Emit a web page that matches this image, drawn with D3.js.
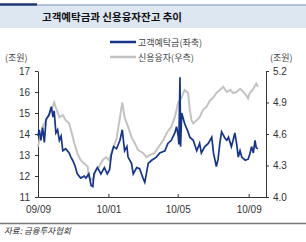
<!DOCTYPE html>
<html>
<head>
<meta charset="utf-8">
<script src="https://cdnjs.cloudflare.com/ajax/libs/d3/7.8.5/d3.min.js"></script>
<style>
  body { margin: 0; background: #fff; }
  svg { display: block; font-family: "Noto Sans CJK KR", "Noto Sans", sans-serif; }
  .tick text { fill: #333; font-size: 10px; font-family: Arial, "Liberation Sans", sans-serif; }
  .domain, .tick line { stroke: #333; }
</style>
</head>
<body>
<div id="chart"></div>
<script>
// ---- data ----
var title = "고객예탁금과 신용융자잔고 추이";
var seriesNames = ["고객예탁금(좌축)", "신용융자(우측)"];
var unitLabel = "(조원)";
var source = "자료: 금융투자협회";

var depositDates = ["2009-09-01","2009-09-03","2009-09-06","2009-09-09","2009-09-12","2009-09-15","2009-09-20","2009-09-24","2009-09-27","2009-09-29",
  "2009-10-02","2009-10-05","2009-10-08","2009-10-11","2009-10-14","2009-10-19","2009-10-25","2009-10-28","2009-10-31","2009-11-04",
  "2009-11-08","2009-11-14","2009-11-20","2009-11-23","2009-11-28","2009-12-02","2009-12-05","2009-12-07","2009-12-13","2009-12-19",
  "2009-12-25","2009-12-30","2010-01-03","2010-01-06","2010-01-10","2010-01-15","2010-01-21","2010-01-25","2010-01-29","2010-02-02",
  "2010-02-04","2010-02-10","2010-02-13","2010-02-19","2010-02-24","2010-03-02","2010-03-05","2010-03-11","2010-03-17","2010-03-25",
  "2010-03-31","2010-04-09","2010-04-14","2010-04-20","2010-04-26","2010-04-29","2010-05-02","2010-05-03","2010-05-05","2010-05-06",
  "2010-05-08","2010-05-13","2010-05-19","2010-05-22","2010-05-28","2010-06-03","2010-06-08","2010-06-11","2010-06-17","2010-06-23",
  "2010-06-29","2010-07-02","2010-07-07","2010-07-10","2010-07-13","2010-07-16","2010-07-22","2010-07-25","2010-07-28","2010-08-02",
  "2010-08-05","2010-08-08","2010-08-11","2010-08-14","2010-08-17","2010-08-20","2010-08-26","2010-08-31","2010-09-03","2010-09-06",
  "2010-09-09","2010-09-12","2010-09-14","2010-09-17"];
var depositValues = [13.9,14.2,13.7,14.3,13.6,14.7,14.9,15.3,14.8,15.1,
  14.05,14.2,13.7,13.9,13.2,13.3,13.1,12.9,12.75,12.5,
  12.1,11.9,12.0,11.9,12.1,11.55,11.5,12.1,12.4,12.1,
  12.4,12.1,12.3,13.0,13.4,13.3,13.7,14.2,13.2,13.4,
  12.9,12.6,12.1,12.4,12.35,11.9,11.7,12.6,12.75,12.9,
  13.1,13.2,13.55,13.7,14.05,14.35,13.9,13.5,16.7,13.4,
  15.0,14.5,14.1,13.85,13.7,13.2,13.55,13.1,13.4,13.55,
  13.85,13.1,12.45,12.8,13.55,14.1,13.8,13.7,13.85,13.4,
  13.7,14.05,13.55,12.9,13.2,12.9,12.75,12.8,13.05,13.4,
  13.1,13.7,13.35,13.3];

var creditDates = ["2009-09-01","2009-09-06","2009-09-09","2009-09-15","2009-09-20","2009-09-26","2009-09-29","2009-10-02","2009-10-08","2009-10-14",
  "2009-10-19","2009-10-25","2009-10-28","2009-11-03","2009-11-08","2009-11-14","2009-11-20","2009-11-26","2009-11-28","2009-12-05",
  "2009-12-10","2009-12-16","2009-12-22","2009-12-28","2010-01-02","2010-01-08","2010-01-12","2010-01-15","2010-01-21","2010-01-25",
  "2010-01-29","2010-02-04","2010-02-10","2010-02-16","2010-02-21","2010-03-02","2010-03-08","2010-03-14","2010-03-22","2010-03-28",
  "2010-04-06","2010-04-12","2010-04-20","2010-04-26","2010-05-02","2010-05-08","2010-05-13","2010-05-19","2010-05-22","2010-05-25",
  "2010-05-28","2010-06-03","2010-06-08","2010-06-14","2010-06-20","2010-06-26","2010-07-02","2010-07-07","2010-07-13","2010-07-19",
  "2010-07-25","2010-07-31","2010-08-05","2010-08-11","2010-08-17","2010-08-23","2010-08-29","2010-08-31","2010-09-03","2010-09-09",
  "2010-09-14","2010-09-17"];
var creditValues = [4.48,4.6,4.67,4.73,4.78,4.85,4.9,4.85,4.76,4.78,
  4.73,4.7,4.64,4.51,4.42,4.35,4.32,4.29,4.19,4.16,
  4.26,4.29,4.35,4.38,4.35,4.45,4.51,4.55,4.76,4.9,
  4.76,4.67,4.57,4.51,4.45,4.42,4.38,4.40,4.42,4.47,
  4.54,4.61,4.67,4.76,4.9,4.95,5.02,4.99,4.83,4.73,
  4.70,4.73,4.76,4.83,4.86,4.92,4.95,4.99,5.02,5.05,
  5.0,5.02,4.99,5.0,5.03,5.0,4.96,4.94,4.99,5.03,
  5.08,5.05];

var leftTicks = [11, 12, 13, 14, 15, 16, 17];
var rightTicks = [4.0, 4.3, 4.6, 4.9, 5.2];
var xTicks = ["2009-09-01", "2010-01-01", "2010-05-01", "2010-09-01"];

// ---- set up ----
var W = 306, H = 242;
var margin = { top: 71, right: 40, bottom: 45, left: 38 };
var parse = d3.timeParse("%Y-%m-%d");

var svg = d3.select("#chart").append("svg")
  .attr("width", W).attr("height", H);

// title bar
svg.append("rect").attr("x", 0).attr("y", 5).attr("width", W).attr("height", 23).attr("fill", "#dde7f1");
svg.append("line").attr("x1", 37).attr("x2", W).attr("y1", 5).attr("y2", 5)
  .attr("stroke", "#9fb2c8").attr("stroke-width", 1.5);
svg.append("line").attr("x1", 0).attr("x2", 37).attr("y1", 4.5).attr("y2", 4.5)
  .attr("stroke", "#1d3a70").attr("stroke-width", 2.5);
svg.append("text").attr("x", 42).attr("y", 21)
  .attr("font-size", "10.5px").attr("font-weight", "bold").attr("fill", "#111")
  .text(title);

var x = d3.scaleTime()
  .domain([parse("2009-09-01"), parse("2010-10-01")])
  .range([margin.left, W - margin.right]);
var yL = d3.scaleLinear().domain([11, 17]).range([H - margin.bottom, margin.top]);
var yR = d3.scaleLinear().domain([4.0, 5.2]).range([H - margin.bottom, margin.top]);

// axes
svg.append("g")
  .attr("transform", "translate(0," + (H - margin.bottom) + ")")
  .call(d3.axisBottom(x).tickValues(xTicks.map(parse)).tickFormat(d3.timeFormat("%y/%m"))
    .tickSizeInner(-3).tickSizeOuter(0).tickPadding(7))
  .selectAll("text").attr("dy", "0.85em");

svg.append("g")
  .attr("transform", "translate(" + margin.left + ",0)")
  .call(d3.axisLeft(yL).tickValues(leftTicks).tickFormat(d3.format("d")).tickSizeInner(3).tickSizeOuter(0).tickPadding(5));

svg.append("g")
  .attr("transform", "translate(" + (W - margin.right) + ",0)")
  .call(d3.axisRight(yR).tickValues(rightTicks).tickFormat(d3.format(".1f")).tickSizeInner(3).tickSizeOuter(0).tickPadding(4));

// lines
var depositData = depositDates.map(function(d, i) { return { date: parse(d), v: depositValues[i] }; });
var creditData = creditDates.map(function(d, i) { return { date: parse(d), v: creditValues[i] }; });

svg.append("path").datum(creditData)
  .attr("fill", "none").attr("stroke", "#c3c3c3").attr("stroke-width", 2)
  .attr("d", d3.line().x(function(d) { return x(d.date); }).y(function(d) { return yR(d.v); }));

svg.append("path").datum(depositData)
  .attr("fill", "none").attr("stroke", "#15348c").attr("stroke-width", 1.7)
  .attr("d", d3.line().x(function(d) { return x(d.date); }).y(function(d) { return yL(d.v); }));

// unit labels
svg.append("text").attr("x", 5).attr("y", 61).attr("font-size", "9px").attr("fill", "#444").text(unitLabel);
svg.append("text").attr("x", 270).attr("y", 61).attr("font-size", "9px").attr("fill", "#444").text(unitLabel);

// legend
var legend = svg.append("g");
var legendColors = ["#15348c", "#c3c3c3"];
seriesNames.forEach(function(name, i) {
  var ly = 42 + i * 15;
  legend.append("line").attr("x1", 110).attr("x2", 136).attr("y1", ly).attr("y2", ly)
    .attr("stroke", legendColors[i]).attr("stroke-width", 2.5);
  legend.append("text").attr("x", 138).attr("y", ly + 3.5)
    .attr("font-size", "9px").attr("fill", "#444").text(name);
});

// bottom rule and source
svg.append("line").attr("x1", 0).attr("x2", W).attr("y1", 223.5).attr("y2", 223.5)
  .attr("stroke", "#777").attr("stroke-width", 1.5);
svg.append("text").attr("x", 4).attr("y", 234)
  .attr("font-size", "8.5px").attr("font-style", "italic").attr("fill", "#333").text(source);
</script>
</body>
</html>
